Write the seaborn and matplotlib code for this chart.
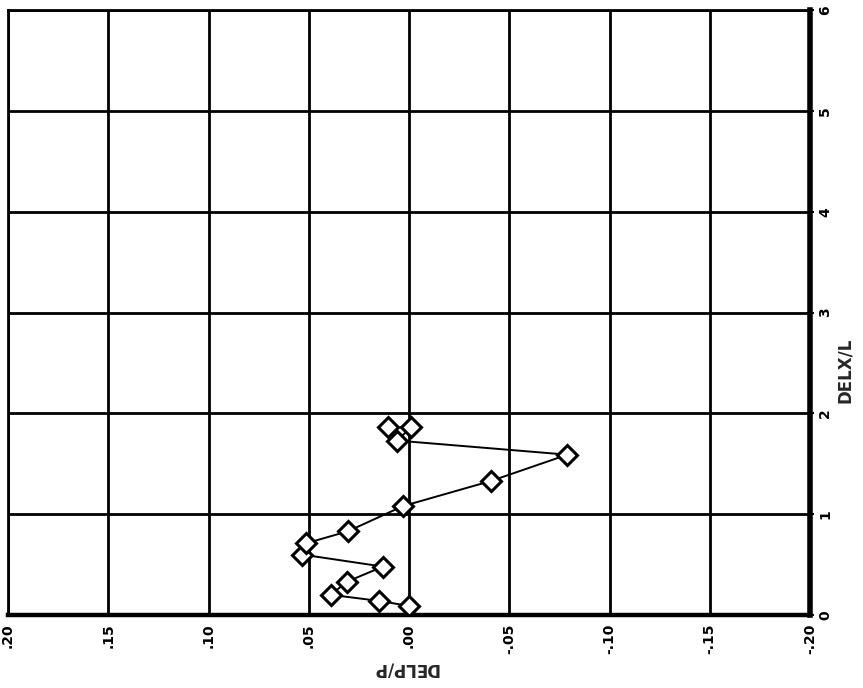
import matplotlib
matplotlib.use("Agg")
import matplotlib.pyplot as plt
import seaborn as sns
import pandas as pd

# Pressure change vs. axial distance, plotted with the DELX/L axis vertical
delx_l = [0.09, 0.14, 0.20, 0.33, 0.48, 0.60, 0.71, 0.83, 1.08, 1.33, 1.59, 1.73, 1.86, 1.86]
delp_p = [0.000, 0.015, 0.039, 0.031, 0.013, 0.0535, 0.0515, 0.0305, 0.003, -0.041, -0.079, 0.006, -0.001, 0.0105]

p_ticks = [0.20, 0.15, 0.10, 0.05, 0.00, -0.05, -0.10, -0.15, -0.20]
p_labels = [".20", ".15", ".10", ".05", ".00", "-.05", "-.10", "-.15", "-.20"]
x_ticks = [0, 1, 2, 3, 4, 5, 6]
x_labels = ["0", "1", "2", "3", "4", "5", "6"]

sns.set_style("white")
plt.rcParams["font.family"] = ["Liberation Sans Narrow", "DejaVu Sans"]

fig = plt.figure(figsize=(8.63, 6.88), dpi=100)
ax = fig.add_axes([8 / 863, 73 / 688, 802 / 863, 605 / 688])

df = pd.DataFrame({"DELP/P": delp_p, "DELX/L": delx_l})
sns.lineplot(data=df, x="DELP/P", y="DELX/L", sort=False, ax=ax,
             color="black", linewidth=1.4, marker="D", markersize=10.5,
             markerfacecolor="white", markeredgecolor="black",
             markeredgewidth=2.2, zorder=5)

ax.set_xlim(0.20, -0.20)
ax.set_ylim(0, 6)
ax.set_xticks(p_ticks)
ax.set_xticklabels(p_labels, rotation=90, fontsize=10, fontweight="bold",
                   va="top", ha="center")
ax.yaxis.tick_right()
ax.set_yticks(x_ticks)
ax.set_yticklabels(x_labels, rotation=90, fontsize=10, fontweight="bold",
                   va="center", ha="left")
ax.tick_params(axis="x", direction="out", length=3, width=1.5, pad=3, colors="black")
ax.tick_params(axis="y", direction="out", length=3, width=1.5, pad=3, colors="black")

ax.grid(True, color="black", linewidth=2.0)
for side, lw in [("top", 2.0), ("left", 2.0), ("bottom", 3.2), ("right", 4.0)]:
    ax.spines[side].set_visible(True)
    ax.spines[side].set_color("black")
    ax.spines[side].set_linewidth(lw)

ax.set_xlabel("")
ax.set_ylabel("")
fig.text(845 / 863, 1 - 370 / 688, "DELX/L", rotation=90, fontsize=12,
         fontweight="bold", ha="center", va="center")
fig.text(405 / 863, 1 - 668 / 688, "DELP/P", rotation=180, fontsize=12,
         fontweight="bold", ha="center", va="center")

fig.savefig("out.png", dpi=100, facecolor="white")
